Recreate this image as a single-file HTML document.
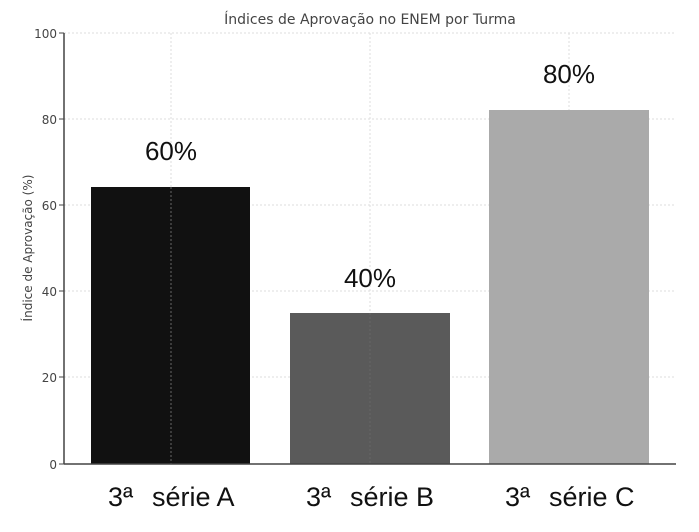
<!DOCTYPE html>
<html><head><meta charset="utf-8"><style>
html,body{margin:0;padding:0;background:#fff;width:699px;height:532px;overflow:hidden}
</style></head><body>
<svg width="699" height="532" viewBox="0 0 699 532" xmlns="http://www.w3.org/2000/svg" font-family="DejaVu Sans, sans-serif">
<text x="370" y="24" font-size="14" fill="#444" text-anchor="middle">Índices de Aprovação no ENEM por Turma</text>
<g stroke="#ddd" stroke-dasharray="2,2" stroke-width="1">
<line x1="64" y1="33" x2="676" y2="33"/><line x1="64" y1="119" x2="676" y2="119"/><line x1="64" y1="205" x2="676" y2="205"/><line x1="64" y1="291" x2="676" y2="291"/><line x1="64" y1="377" x2="676" y2="377"/>
<line x1="171" y1="33" x2="171" y2="464"/><line x1="370" y1="33" x2="370" y2="464"/><line x1="569" y1="33" x2="569" y2="464"/>
</g>
<rect x="91" y="187" width="159" height="277" fill="#111"/>
<rect x="290" y="313" width="160" height="151" fill="#5a5a5a"/>
<rect x="489" y="110" width="160" height="354" fill="#aaa"/>
<g stroke="#666" stroke-dasharray="2,2" stroke-width="1">
<line x1="171" y1="187" x2="171" y2="464"/><line x1="370" y1="313" x2="370" y2="464"/>
</g>
<line x1="64" y1="33" x2="64" y2="464" stroke="#444" stroke-width="1.5"/>
<line x1="64" y1="464" x2="676" y2="464" stroke="#444" stroke-width="1.5"/>
<g stroke="#444"><line x1="59" y1="33" x2="64" y2="33"/><line x1="59" y1="119" x2="64" y2="119"/><line x1="59" y1="205" x2="64" y2="205"/><line x1="59" y1="291" x2="64" y2="291"/><line x1="59" y1="377" x2="64" y2="377"/><line x1="59" y1="464" x2="64" y2="464"/></g>
<g font-size="12" fill="#444" text-anchor="end">
<text x="57" y="38">100</text><text x="57" y="124">80</text><text x="57" y="210">60</text><text x="57" y="296">40</text><text x="57" y="382">20</text><text x="57" y="469">0</text>
</g>
<text transform="translate(32,248) rotate(-90)" font-size="12" fill="#444" text-anchor="middle">Índice de Aprovação (%)</text>
<g font-family="Liberation Sans, sans-serif" font-size="26" fill="#111" text-anchor="middle">
<text x="171" y="160">60%</text><text x="370" y="287">40%</text><text x="569" y="83">80%</text>
</g>
<g font-family="Liberation Sans, sans-serif" font-size="27" fill="#111">
<text x="108" y="506">3ª</text><text x="152" y="506">série A</text>
<text x="306" y="506">3ª</text><text x="350" y="506">série B</text>
<text x="505" y="506">3ª</text><text x="549" y="506">série C</text>
</g>
</svg>
</body></html>
